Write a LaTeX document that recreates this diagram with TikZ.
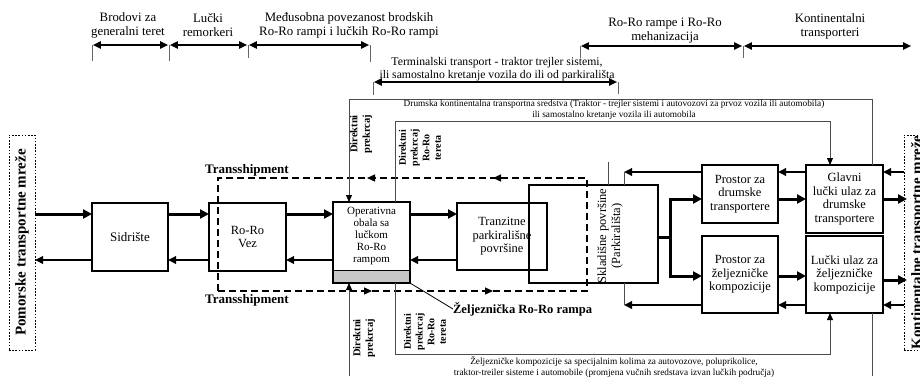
\documentclass[tikz,border=0pt]{standalone}
\usepackage{fontspec}
\setmainfont{Liberation Serif}
\usetikzlibrary{arrows.meta}
\begin{document}
\begin{tikzpicture}[x=1pt,y=-1pt,
  every node/.style={inner sep=0pt, outer sep=0pt},
  boxline/.style={draw, line width=1.8pt},
  blk/.style={boxline, align=center, font=\fontsize{12.5}{13.5}\selectfont},
  dotbox/.style={draw, line width=0.9pt, dash pattern=on 1.6pt off 1.6pt},
  fat/.style={line width=3pt, line join=miter, -{Triangle[length=9pt,width=9pt]}},
  mid/.style={line width=1.8pt, -{Triangle[length=8pt,width=7.5pt]}},
  thinln/.style={line width=0.9pt, draw=black!70},
  thinarr/.style={thinln, -{Triangle[length=7pt,width=6pt,color=black]}},
  spanarr/.style={line width=1.8pt, shorten <=0.8pt, shorten >=0.8pt,
    {Triangle[length=8pt,width=7pt]}-{Triangle[length=8pt,width=7pt]}},
  tick/.style={line width=1pt, draw=black!60},
  lbl/.style={align=center, font=\fontsize{12.8}{14}\selectfont},
  small/.style={align=center, font=\fontsize{9.3}{10.5}\selectfont},
  dir/.style={align=center, rotate=90, font=\bfseries\fontsize{10.5}{12.5}\selectfont},
  dirfour/.style={align=center, rotate=90, font=\bfseries\fontsize{10}{11.7}\selectfont},
  tlbl/.style={font=\bfseries\fontsize{13}{15}\selectfont},
  net/.style={rotate=90, font=\bfseries\fontsize{15}{17}\selectfont},
  dtip/.style={line width=1.2pt, -{Triangle[length=8pt,width=7pt]}}
]
\useasboundingbox (0,0) rectangle (920,376);

% ---- range markers along the top ----
\coordinate (t1) at (92,45);  \coordinate (t2) at (169,45);
\coordinate (t3) at (248,45); \coordinate (t4) at (370,45);
\coordinate (t5) at (373,82); \coordinate (t6) at (618,82);
\coordinate (t7) at (580,46); \coordinate (t8) at (743,46);
\coordinate (t9) at (912,46);

\draw[tick] (t1) -- ++(0,16);
\draw[tick] (t2) -- ++(0,16);
\draw[tick] (t3) -- ++(0,13);
\draw[tick] (t4) -- ++(0,17);
\draw[tick] (t5) -- ++(0,13);
\draw[tick] (t6) -- ++(0,12);
\draw[tick] (t7) -- ++(0,12);
\draw[tick] (t8) -- ++(0,12);

\draw[spanarr] (t1) -- (t2);
\draw[spanarr] (t2) -- (t3);
\draw[spanarr] (t3) -- (t4);
\draw[spanarr] (t5) -- (t6);
\draw[spanarr] (t7) -- (t8);
\draw[spanarr] (t8) -- (t9);

\node[lbl] (lb1) at (128,25) {Brodovi za\\generalni teret};
\node[lbl] (lb2) at (208,25) {Lučki\\remorkeri};
\node[lbl] (lb3) at (349,25) {Međusobna povezanost brodskih\\Ro-Ro rampi i lučkih Ro-Ro rampi};
\node[lbl, font=\fontsize{11.7}{12.5}\selectfont] (lb4) at (497,69)
  {Terminalski transport - traktor trejler sistemi,\\ili samostalno kretanje vozila do ili od parkirališta};
\node[lbl] (lb5) at (665,31) {Ro-Ro rampe i Ro-Ro\\mehanizacija};
\node[lbl] (lb6) at (830,26) {Kontinentalni\\transporteri};

% ---- network boundaries ----
\node[dotbox, minimum width=26, minimum height=215] (pom) at (22,242.5) {};
\node[net] (pomtxt) at (22,242.5) {Pomorske transportne mreže};
\node[dotbox, minimum width=26, minimum height=215] (kont) at (917,242.5) {};
\node[net] (konttxt) at (918,242.5) {Kontinentalne transportne mreže};

% ---- port elements ----
\node[blk, font=\fontsize{13}{14}\selectfont, minimum width=76, minimum height=68] (sid) at (130,237) {Sidrište};
\node[blk, minimum width=77, minimum height=68] (vez) at (247.5,237) {Ro-Ro\\Vez};
\node[blk, draw=none, font=\fontsize{11}{12}\selectfont, minimum width=77, minimum height=68] (oper) at (371.5,236)
  {Operativna\\obala sa\\lučkom\\Ro-Ro\\rampom};
\node[draw, line width=1pt, fill=black!22, minimum width=77, minimum height=13] (rampa) at (371.5,276.5) {};
\draw[boxline] (oper.north west) rectangle (rampa.south east);
\node[blk, minimum width=90, minimum height=67] (tranz) at (502,236.5) {Tranzitne\\parkirališne\\površine};
\node[boxline, minimum width=129, minimum height=98] (sklad) at (593.5,234) {};
\node[align=center, rotate=90, font=\fontsize{12.5}{14}\selectfont] (skladtxt) at (610,236)
  {Skladišne površine\\(Parkirališta)};
\node[blk, minimum width=76, minimum height=58] (pdrum) at (740,194) {Prostor za\\drumske\\transportere};
\node[blk, minimum width=76, minimum height=77] (pzelj) at (740,274.5) {Prostor za\\željezničke\\kompozicije};
\node[blk, minimum width=77, minimum height=68] (glavni) at (844.5,199) {Glavni\\lučki ulaz za\\drumske\\transportere};
\node[blk, minimum width=77, minimum height=77] (lucki) at (844.5,274.5) {Lučki ulaz za\\željezničke\\kompozicije};

% ---- transshipment zone ----
\node[draw, line width=1.6pt, dash pattern=on 7pt off 4pt, minimum width=369, minimum height=113] (transbox) at (402.5,234.5) {};
\node[tlbl] (tsTop) at (247,170) {Transshipment};
\node[tlbl] (tsBot) at (247,300) {Transshipment};
\coordinate (mk1) at (367,0); \coordinate (mk2) at (493,0);
\coordinate (mk3) at (372,0); \coordinate (mk4) at (493,0);
\draw[dtip] (transbox.north -| mk1) ++(6,0) -- ++(-6,0);
\draw[dtip] (transbox.north -| mk2) ++(6,0) -- ++(-6,0);
\draw[dtip] (transbox.south -| mk3) ++(-6,0) -- ++(6,0);
\draw[dtip] (transbox.south -| mk4) ++(-6,0) -- ++(6,0);

% ---- levels and columns ----
\coordinate (lvA) at (0,214);
\coordinate (lvB) at (0,260);
\coordinate (lvC) at (0,172);
\coordinate (lvD) at (0,199);
\coordinate (lvE) at (0,276);
\coordinate (lvF) at (0,305);
\coordinate (lvG) at (0,237);
\coordinate (lvH) at (0,280);
\coordinate (colA) at (349,0);
\coordinate (colB) at (395,0);
\coordinate (colC) at (872,0);
\coordinate (colD) at (830,0);
\coordinate (colE) at (624,0);
\coordinate (colF) at (608,0);
\coordinate (colG) at (670,0);
\coordinate (colR) at (907,0);
\coordinate (rowT) at (0,99);
\coordinate (rowI) at (0,121);
\coordinate (rowJ) at (0,354);
\coordinate (rowB) at (0,376);
\coordinate (rowK) at (0,162);

% ---- sea side flows ----
\draw[fat] (pom.east |- lvA) -- (sid.west |- lvA);
\draw[fat] (sid.east |- lvA) -- (vez.west |- lvA);
\draw[fat] (vez.east |- lvA) -- (oper.west |- lvA);
\draw[fat] (oper.east |- lvA) -- (tranz.west |- lvA);
\draw[mid] (tranz.west |- lvB) -- (oper.east |- lvB);
\draw[mid] (oper.west |- lvB) -- (vez.east |- lvB);
\draw[mid] (vez.west |- lvB) -- (sid.east |- lvB);
\draw[mid] (sid.west |- lvB) -- (pom.east |- lvB);

% ---- land side flows ----
\draw[fat] (sklad.east |- lvG) -- (colG |- lvG) |- (pdrum.west |- lvD);
\draw[fat] (sklad.east |- lvG) -- (colG |- lvG) |- (pzelj.west |- lvE);
\draw[fat] (pdrum.east |- lvD) -- (glavni.west |- lvD);
\draw[fat] (pzelj.east |- lvE) -- (lucki.west |- lvE);
\draw[mid] (glavni.west |- lvC) -- (pdrum.east |- lvC);
\draw[mid] (lucki.west |- lvF) -- (pzelj.east |- lvF);
\draw[fat] (glavni.east |- lvD) -- (colR |- lvD);
\draw[fat] (lucki.east |- lvH) -- (colR |- lvH);
\draw[mid] (kont.west |- lvC) -- (glavni.east |- lvC);
\draw[mid] (kont.west |- lvF) -- (lucki.east |- lvF);
\draw[mid] (pdrum.west |- lvC) -- (colE |- lvC);
\draw[thinln] (colE |- lvC) -- (sklad.north -| colE);
\draw[mid] (pzelj.west |- lvF) -- (colE |- lvF);
\draw[thinln] (colE |- lvF) -- (sklad.south -| colE);
\draw[thinln] (sklad.north -| colF) -- (colF |- rowK);

% ---- direct transfer routes ----
\draw[thinarr] (glavni.north -| colC) -- (colC |- rowT) -- (colA |- rowT) -- (oper.north -| colA);
\draw[thinarr] (oper.north -| colB) -- (colB |- rowI) -- (colD |- rowI) -- (glavni.north -| colD);
\draw[thinarr] (colA |- rowB) -- (rampa.south -| colA);
\draw[thinln] (lucki.south -| colC) -- (colC |- rowB);
\draw[thinarr] (rampa.south -| colB) -- (colB |- rowJ) -- (colD |- rowJ) -- (lucki.south -| colD);

\node[small] (drum) at (614,110) {Drumska kontinentalna transportna sredstva (Traktor - trejler sistemi i autovozovi za prvoz vozila ili automobila)\\ili samostalno kretanje vozila ili automobila};
\node[small] (zelj) at (614,367) {Željezničke kompozicije sa specijalnim kolima za autovozove, poluprikolice,\\traktor-treiler sisteme i automobile (promjena vučnih sredstava izvan lučkih područja)};

\node[dir] (dp1) at (361,134) {Direktni\\prekrcaj};
\node[dirfour] (dp2) at (420,148) {Direktni\\prekrcaj\\Ro-Ro\\tereta};
\node[dir] (dp3) at (364,338) {Direktni\\prekrcaj};
\node[dirfour] (dp4) at (425,332) {Direktni\\prekrcaj\\Ro-Ro\\tereta};

% ---- rail ramp callout ----
\node[anchor=west, font=\bfseries\fontsize{12.6}{14}\selectfont] (ramlbl) at (453,309) {Željeznička Ro-Ro rampa};
\draw[line width=0.8pt] (rampa.south east) -- (ramlbl.west);
\end{tikzpicture}
\end{document}
